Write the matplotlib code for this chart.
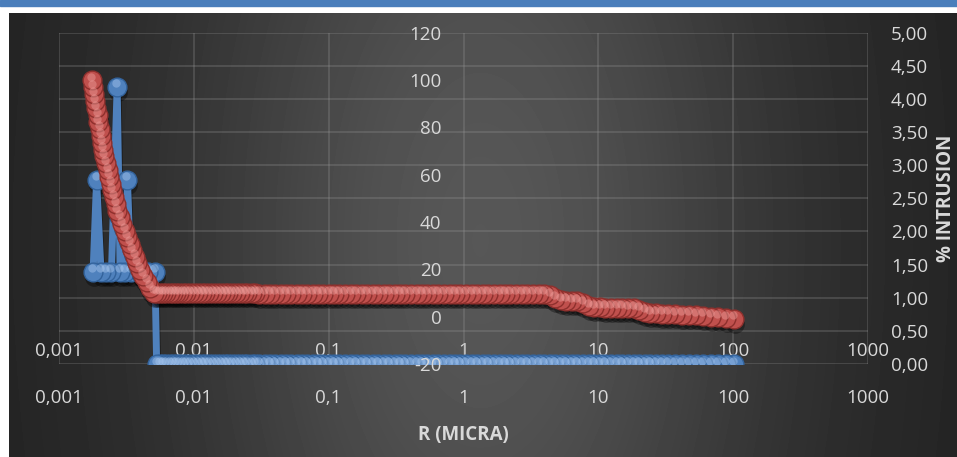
import numpy as np
import matplotlib.pyplot as plt
from matplotlib import transforms
from matplotlib.patches import Rectangle
from matplotlib.ticker import NullLocator

plt.rcParams['font.family'] = ['Open Sans', 'DejaVu Sans']

# radio de poro R (micras), de mayor a menor como en el ensayo
r_tail = [101.0, 88.0, 77.0, 68.0, 60.0, 53.0, 47.0, 42.0, 37.0, 33.0, 29.5,
          26.8, 24.3, 22.1, 20.1, 18.3, 16.6, 15.1, 13.7, 12.5, 11.3, 10.3,
          9.30, 8.50, 7.70, 7.00, 6.40, 5.80, 5.30, 4.80, 4.35, 3.96, 3.60,
          3.27, 2.97, 2.70, 2.45, 2.23, 2.03, 1.85, 1.68, 1.53, 1.39, 1.26,
          1.15, 1.05,
          0.950, 0.870, 0.790, 0.720, 0.650, 0.590, 0.540, 0.490, 0.450,
          0.410, 0.370, 0.340, 0.310, 0.280, 0.256, 0.233, 0.212, 0.193,
          0.176, 0.160, 0.146, 0.133, 0.120, 0.110, 0.100,
          0.0910, 0.0830, 0.0760, 0.0690, 0.0630, 0.0580, 0.0530, 0.0480,
          0.0440, 0.0400, 0.0367, 0.0335, 0.0306,
          0.0286, 0.0268, 0.0250, 0.0235, 0.0220, 0.0206, 0.0193, 0.0180,
          0.0169, 0.0158, 0.0148, 0.0139, 0.0130, 0.0122, 0.0114, 0.0107,
          0.0100,
          0.0094, 0.0088, 0.0083, 0.0078, 0.0074, 0.0070, 0.0066, 0.0062,
          0.0059, 0.0056, 0.0053]

# intrusion acumulada (eje principal)
cum_tail = [-0.9, -0.6, -0.3, 0.0, 0.3, 0.5, 0.7, 0.9, 1.1, 1.2, 1.3,
            1.4, 1.5, 2.0, 2.9, 3.5, 3.6, 3.7, 3.7, 3.8, 3.8, 3.9,
            4.0, 4.4, 5.6, 6.5, 6.6, 6.7, 6.9, 7.8, 9.0, 9.6, 9.6,
            9.6, 9.6, 9.6, 9.6, 9.6, 9.6, 9.6, 9.6, 9.6, 9.6, 9.6,
            9.6, 9.6,
            9.7, 9.7, 9.7, 9.7, 9.7, 9.7, 9.7, 9.7, 9.7,
            9.7, 9.7, 9.7, 9.7, 9.7, 9.7, 9.7, 9.7, 9.7,
            9.7, 9.7, 9.7, 9.7, 9.7, 9.7, 9.7,
            9.7, 9.7, 9.7, 9.7, 9.7, 9.7, 9.7, 9.7,
            9.7, 9.7, 9.7, 9.7, 9.7,
            9.8, 9.8, 9.8, 9.8, 9.8, 9.8, 9.8, 9.8,
            9.8, 9.8, 9.8, 9.8, 9.8, 9.8, 9.8, 9.8,
            9.8,
            9.8, 9.8, 9.8, 9.8, 9.8, 9.8, 9.8, 9.8,
            9.8, 9.8, 9.8]
r_cum_head = [0.00505, 0.00475, 0.00447, 0.00421, 0.00396, 0.00380, 0.00364,
              0.00349, 0.00334, 0.00320, 0.00307, 0.00294, 0.00282, 0.00270,
              0.00263, 0.00256, 0.00249, 0.00242, 0.00236, 0.00230, 0.00223,
              0.00217, 0.00212, 0.00208, 0.00204, 0.00200, 0.00196, 0.00193,
              0.00189, 0.00186, 0.00182, 0.00179, 0.00176]
cum_head = [10.1, 12.2, 14.7, 17.2, 19.8, 22.5, 25.3, 28.1, 30.8, 33.6, 36.3,
            39.1, 41.9, 44.6, 47.5, 50.4, 53.3, 56.2, 59.0, 61.9, 64.8, 67.7,
            70.5, 73.5, 76.4, 79.3, 82.2, 85.1, 88.0, 91.0, 93.9, 96.8, 99.8]

# % intrusion (eje secundario)
inc_tail = [0, 0, 0, 0, 0, 0, 0, 0, 0, 0, 0, 0, 0, 0, 0, 0, 0, 0, 0, 0,
            0, 0, 0, 0, 0, 0, 0, 0, 0, 0, 0, 0, 0, 0, 0, 0, 0, 0, 0, 0,
            0, 0, 0, 0, 0, 0, 0, 0, 0, 0, 0, 0, 0, 0, 0, 0, 0, 0, 0, 0,
            0, 0, 0, 0, 0, 0, 0, 0, 0, 0, 0, 0, 0, 0, 0, 0, 0, 0, 0, 0,
            0, 0, 0, 0, 0, 0, 0, 0, 0, 0, 0, 0, 0, 0, 0, 0, 0, 0, 0, 0,
            0, 0, 0, 0, 0, 0, 0, 0, 0, 0, 0, 0]
r_inc_head = [0.00515, 0.00460, 0.00400, 0.00340, 0.00322, 0.00310, 0.00284,
              0.00270, 0.00245, 0.00222, 0.00205, 0.00190, 0.00179]
inc_head = [1.39, 1.39, 1.39, 1.39, 2.78, 1.39, 1.39, 4.18, 1.39, 1.39, 1.39,
            2.78, 1.39]

r_cum = r_tail + r_cum_head
cum = cum_tail + cum_head
r_inc = r_tail + r_inc_head
inc = inc_tail + inc_head

x_ticks = [0.001, 0.01, 0.1, 1, 10, 100, 1000]
x_labels = ['0,001', '0,01', '0,1', '1', '10', '100', '1000']
y1_ticks = [-20, 0, 20, 40, 60, 80, 100, 120]
y1_labels = ['-20', '0', '20', '40', '60', '80', '100', '120']
y2_ticks = [0, 0.5, 1, 1.5, 2, 2.5, 3, 3.5, 4, 4.5, 5]
y2_labels = ['0,00', '0,50', '1,00', '1,50', '2,00', '2,50', '3,00', '3,50',
             '4,00', '4,50', '5,00']

W, H = 957, 457
txt = '#d9d9d9'
fs = 13.5

fig = plt.figure(figsize=(W / 100, H / 100), dpi=100, facecolor='white')

# fondo oscuro con degradado
bg = fig.add_axes([9 / W, 0, (W - 9) / W, (H - 13) / H])
px = np.arange(9, W) - 480.0
py = np.arange(13, H) - 240.0
g = 0.13 + 0.21 * np.exp(-(px[None, :] / 300) ** 2 - (py[:, None] / 600) ** 2)
bg.imshow(g, cmap='gray', vmin=0, vmax=1, aspect='auto', interpolation='bilinear')
bg.axis('off')
fig.patches.append(Rectangle((0, 1 - 6 / H), 1, 6 / H, transform=fig.transFigure,
                             color='#4a7ebb', zorder=5))

L, R, B, T = 59 / W, 868 / W, 1 - 364 / H, 1 - 32.5 / H
ax1 = fig.add_axes([L, B, R - L, T - B])
ax1.patch.set_visible(False)
ax1.set_xscale('log')
ax1.set_xlim(1e-3, 1e3)
ax1.set_ylim(0, 5)
ax1.set_xticks(x_ticks, x_labels)
ax1.xaxis.set_minor_locator(NullLocator())
ax1.set_yticks(y2_ticks, y2_labels)
ax1.grid(True, color='#9a9a9a', alpha=0.3, lw=1.2)
for s in ax1.spines.values():
    s.set_visible(False)
ax1.set_xlabel('R (MICRA)', color=txt, fontsize=fs, fontweight='bold')
ax1.xaxis.set_label_coords(0.5, -0.185)

row1 = ax1.secondary_xaxis(0.078)
row1.set_xticks(x_ticks, x_labels)
row1.xaxis.set_minor_locator(NullLocator())
row1.spines['bottom'].set_visible(False)
row1.tick_params(length=0, labelcolor=txt, labelsize=fs, pad=2.9)

ax2 = ax1.twinx()
ax2.set_ylim(-20, 120)
ax2.set_yticks(y1_ticks, y1_labels)
ax2.yaxis.tick_left()
ax2.spines['left'].set_position(('data', 1))
for s in ax2.spines.values():
    s.set_visible(False)
ax2.tick_params(length=0, labelcolor=txt, labelsize=fs, pad=15.8)

# twinx pone las etiquetas de ax1 a la izquierda: devolverlas a la derecha
ax1.yaxis.tick_right()
ax1.tick_params(length=0, labelcolor=txt, labelsize=fs)
ax1.tick_params(axis='y', pad=16.5)
ax1.tick_params(axis='x', pad=18.3)


def serie(ax, x, y, face, edge, light, lw):
    shadow = transforms.offset_copy(ax.transData, fig, x=1, y=-5, units='dots')
    ax.plot(x, y, color='black', alpha=0.35, lw=lw, marker='o', ms=13.5, mew=0,
            transform=shadow)
    ax.plot(x, y, color=face, lw=lw, marker='o', ms=13.5, mfc=face, mec=edge, mew=1.0)
    hi = transforms.offset_copy(ax.transData, fig, x=-1, y=3.5, units='dots')
    ax.plot(x, y, ls='none', marker='o', ms=6, mfc=light, mew=0, alpha=0.45,
            transform=hi)


serie(ax1, r_inc, inc, '#4f81bd', '#33639c', '#a9c8ef', 5)
serie(ax2, r_cum, cum, '#c0504d', '#8e302d', '#ee9f9c', 5)

fig.text(946 / W, 1 - 198 / H, '% INTRUSION', rotation=90, ha='center', va='center',
         color=txt, fontsize=fs, fontweight='bold')

fig.savefig('out.png', dpi=100, facecolor=fig.get_facecolor())
